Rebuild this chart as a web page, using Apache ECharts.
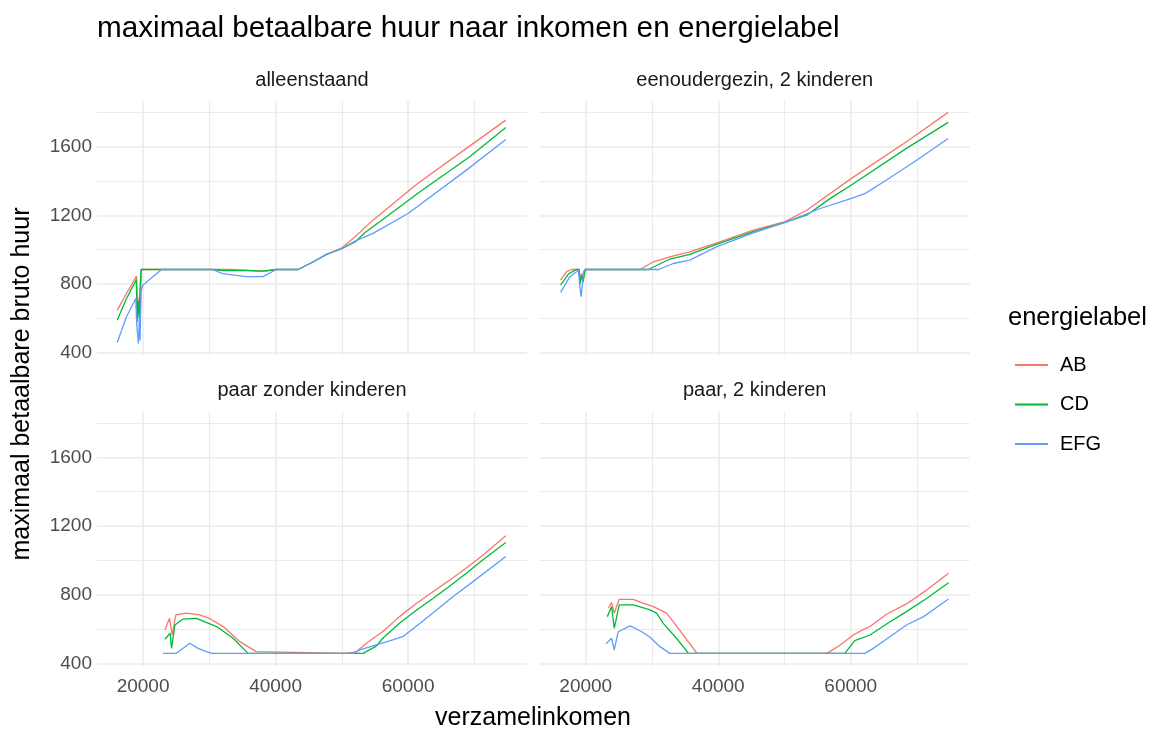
<!DOCTYPE html>
<html>
<head>
<meta charset="utf-8">
<title>maximaal betaalbare huur</title>
<script src="https://cdn.jsdelivr.net/npm/echarts@6/dist/echarts.min.js"></script>
<style>
html, body { margin: 0; padding: 0; background: #fff; }
#chart { width: 1149px; height: 729px; }
</style>
</head>
<body>
<div id="chart"></div>
<script>
var panels = ['alleenstaand', 'eenoudergezin, 2 kinderen', 'paar zonder kinderen', 'paar, 2 kinderen'];
var labels = ['AB', 'CD', 'EFG'];
var xTicks = [20000, 40000, 60000];
var xMinorTicks = [30000, 50000, 70000];
var yTicks = [400, 800, 1200, 1600];
var yMinorTicks = [600, 1000, 1400, 1800];

// [verzamelinkomen, maximale huur] per energielabel
var alleenAB = [[16100,647],[17500,744],[19000,845],[19200,640],[19400,720],[19600,650],[19750,884],[33000,884],[35000,880],[37500,875],[38500,875],[40100,884],[43400,884],[45500,925],[47700,972],[50000,1010],[52000,1075],[54700,1172],[61300,1381],[68800,1591],[74750,1756]];
var alleenCD = [[16100,588],[17500,715],[19000,825],[19100,578],[19250,700],[19400,600],[19550,780],[19700,884],[30500,884],[32000,878],[36000,878],[38000,875],[40100,884],[43400,884],[45500,925],[47700,972],[50000,1005],[52000,1045],[53500,1100],[54700,1133],[61800,1338],[69300,1542],[74750,1713]];
var alleenEFG = [[16100,458],[17500,608],[18900,715],[19050,560],[19300,452],[19450,600],[19550,470],[19700,760],[20000,793],[22800,884],[30500,884],[32000,860],[35600,842],[38100,842],[40100,884],[43400,884],[45500,925],[47700,972],[50000,1005],[52000,1050],[54700,1095],[60000,1211],[68800,1464],[74750,1643]];

var eenoudAB = [[16200,822],[17100,871],[17900,884],[19000,884],[19150,830],[19400,860],[19600,820],[19900,884],[28200,884],[30200,929],[32700,958],[35700,987],[39800,1040],[45300,1114],[50100,1163],[53400,1231],[60100,1416],[68400,1630],[74700,1801]];
var eenoudCD = [[16200,793],[17400,858],[18600,884],[19000,884],[19150,800],[19400,850],[19600,810],[19900,884],[29450,884],[32700,945],[35700,972],[39800,1032],[45300,1105],[50100,1159],[53400,1202],[56900,1299],[60100,1377],[68400,1591],[74700,1743]];
var eenoudEFG = [[16200,750],[17600,842],[18900,880],[19100,790],[19300,725],[19500,800],[19650,870],[19900,884],[31000,884],[33200,919],[35700,939],[39800,1017],[45300,1098],[50100,1159],[55400,1240],[60100,1299],[62200,1328],[65400,1406],[70000,1523],[74700,1649]];

var paarAB = [[23300,594],[24000,662],[24400,565],[24950,682],[26550,692],[28550,682],[30100,660],[32100,614],[34600,526],[37100,468],[37400,458],[50400,458],[50500,464],[51700,464],[52200,468],[53700,517],[56200,585],[58700,672],[61300,750],[63800,818],[66300,886],[68800,955],[71300,1030],[74750,1143]];
var paarCD = [[23300,540],[24100,575],[24300,487],[24800,623],[26000,657],[28050,662],[31100,614],[33600,546],[35850,458],[53200,458],[55200,500],[56200,546],[58700,633],[61300,711],[63800,779],[66300,850],[68800,925],[71300,1003],[74750,1104]];
var paarEFG = [[23000,458],[25050,458],[27050,517],[28300,487],[30300,458],[51700,458],[52700,478],[55200,507],[57700,536],[59200,555],[61800,633],[64300,711],[66800,789],[69800,876],[74750,1022]];

var paar2AB = [[23400,721],[23900,754],[24300,692],[25050,773],[27200,773],[28200,756],[30200,730],[32200,692],[33200,643],[34700,565],[36800,458],[56000,458],[56600,462],[58400,507],[60400,565],[61900,598],[62900,614],[65400,686],[68400,746],[71500,828],[74750,925]];
var paar2CD = [[23250,672],[23900,730],[24300,604],[25050,740],[27200,740],[29700,711],[30700,692],[31700,633],[33700,546],[35500,458],[59100,458],[60600,532],[62900,565],[65400,629],[68400,701],[71500,779],[74750,870]];
var paar2EFG = [[23050,513],[23900,546],[24300,478],[24900,584],[26700,618],[28450,584],[29700,552],[31200,497],[32700,458],[62150,458],[63400,487],[65900,555],[68400,623],[71000,672],[74750,775]];

var panelData = [
    [alleenAB, alleenCD, alleenEFG],
    [eenoudAB, eenoudCD, eenoudEFG],
    [paarAB, paarCD, paarEFG],
    [paar2AB, paar2CD, paar2EFG]
];

var colors = ['#F8766D', '#00BA38', '#619CFF'];
var font = '"Liberation Sans", Arial, sans-serif';
var gridColor = '#ebebeb';

// panel boxes (ggplot facet layout)
var boxes = [
    {left: 97, top: 101, width: 430, height: 254.4},
    {left: 539.7, top: 101, width: 430, height: 254.4},
    {left: 97, top: 411.5, width: 430, height: 254.8},
    {left: 539.7, top: 411.5, width: 430, height: 254.8}
];

function plain(v) { return String(v); }

var chart = echarts.init(document.getElementById('chart'));

var grids = [], xAxes = [], yAxes = [], series = [], graphics = [];

boxes.forEach(function (b, g) {
    grids.push({left: b.left, top: b.top, width: b.width, height: b.height, containLabel: false});
    var bottomRow = g >= 2, leftCol = g % 2 === 0;

    // major x
    xAxes.push({
        type: 'value', gridIndex: g, min: 13050, max: 77950,
        axisLine: {show: false},
        axisTick: {show: false, customValues: xTicks},
        axisLabel: {show: bottomRow, customValues: xTicks, margin: 11, formatter: plain,
            fontSize: 19, color: '#4d4d4d', fontFamily: font},
        splitLine: {show: true, lineStyle: {color: gridColor, width: 1.6}}
    });
    // minor x
    xAxes.push({
        type: 'value', gridIndex: g, min: 13050, max: 77950,
        axisLine: {show: false},
        axisTick: {show: false, customValues: xMinorTicks},
        axisLabel: {show: false},
        splitLine: {show: true, lineStyle: {color: gridColor, width: 1.1}}
    });
    // major y
    yAxes.push({
        type: 'value', gridIndex: g, min: 382.5, max: 1867.5,
        axisLine: {show: false},
        axisTick: {show: false, customValues: yTicks},
        axisLabel: {show: leftCol, customValues: yTicks, margin: 5, formatter: plain,
            fontSize: 19, color: '#4d4d4d', fontFamily: font},
        splitLine: {show: true, lineStyle: {color: gridColor, width: 1.6}}
    });
    // minor y
    yAxes.push({
        type: 'value', gridIndex: g, min: 382.5, max: 1867.5,
        axisLine: {show: false},
        axisTick: {show: false, customValues: yMinorTicks},
        axisLabel: {show: false},
        splitLine: {show: true, lineStyle: {color: gridColor, width: 1.1}}
    });

    panelData[g].forEach(function (d, k) {
        series.push({
            name: labels[k],
            type: 'line',
            xAxisIndex: 2 * g,
            yAxisIndex: 2 * g,
            data: d,
            showSymbol: false,
            symbol: 'none',
            color: colors[k],
            lineStyle: {color: colors[k], width: 1.3},
            itemStyle: {color: colors[k]},
            z: 3 + k
        });
    });

    // strip label
    graphics.push({
        type: 'text',
        x: b.left + b.width / 2,
        y: b.top - 21,
        style: {text: panels[g], font: '20px ' + font, fill: '#1a1a1a',
            align: 'center', verticalAlign: 'middle'}
    });
});

graphics.push({
    type: 'text', x: 97, y: 29,
    style: {text: 'maximaal betaalbare huur naar inkomen en energielabel',
        font: '29.7px ' + font, fill: '#000', align: 'left', verticalAlign: 'middle'}
});
graphics.push({
    type: 'text', x: 533, y: 718,
    style: {text: 'verzamelinkomen', font: '25px ' + font, fill: '#000',
        align: 'center', verticalAlign: 'middle'}
});
graphics.push({
    type: 'text', x: 22, y: 384, rotation: Math.PI / 2,
    style: {text: 'maximaal betaalbare bruto huur', font: '25px ' + font, fill: '#000',
        align: 'center', verticalAlign: 'middle'}
});
graphics.push({
    type: 'text', x: 1008, y: 318,
    style: {text: 'energielabel', font: '25.5px ' + font, fill: '#000',
        align: 'left', verticalAlign: 'middle'}
});

var option = {
    animation: false,
    backgroundColor: '#ffffff',
    grid: grids,
    xAxis: xAxes,
    yAxis: yAxes,
    legend: {
        data: labels,
        orient: 'vertical',
        left: 1010,
        top: 350,
        icon: 'rect',
        itemWidth: 33,
        itemHeight: 2,
        itemGap: 19.5,
        textStyle: {fontSize: 20, lineHeight: 20, color: '#000', fontFamily: font, padding: [0, 0, 0, 7]}
    },
    graphic: graphics,
    series: series
};

chart.setOption(option);
</script>
</body>
</html>
